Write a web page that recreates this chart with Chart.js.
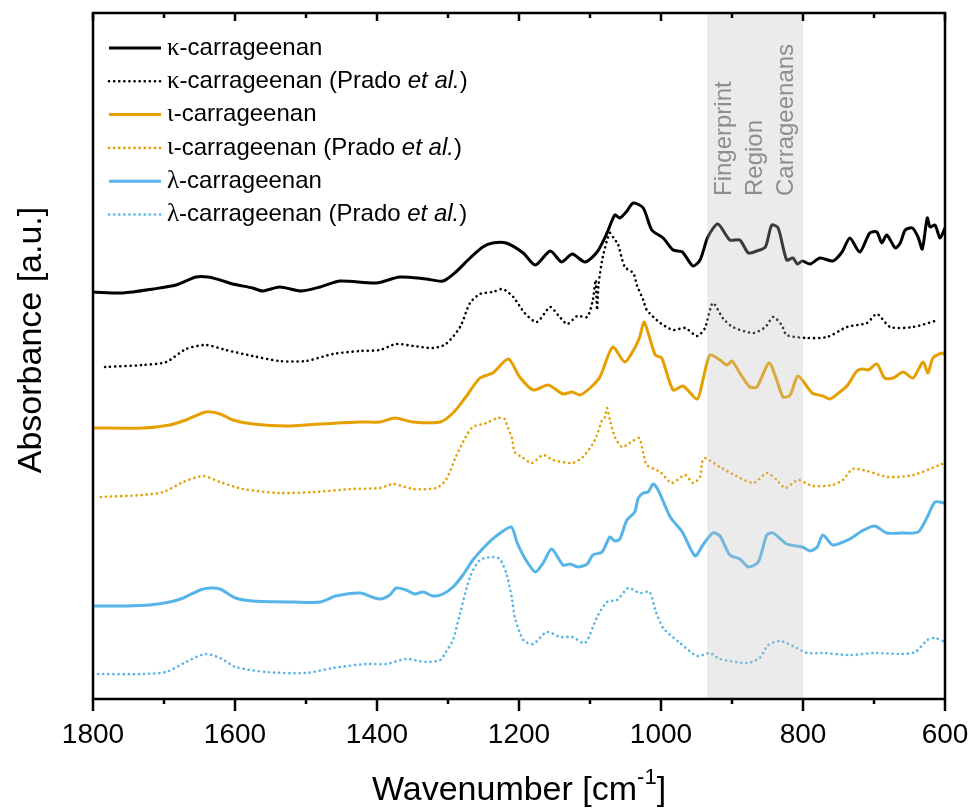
<!DOCTYPE html>
<html>
<head>
<meta charset="utf-8">
<title>FTIR carrageenan spectra</title>
<script src="https://cdn.jsdelivr.net/npm/chart.js@4.4.0/dist/chart.umd.min.js"></script>
<style>
  html, body { margin: 0; padding: 0; background: #fff; }
  #wrap { width: 974px; height: 811px; }
</style>
</head>
<body>
<div id="wrap"><canvas id="ftirChart" width="974" height="811"></canvas></div>
<script>
// spectra (wavenumber in cm-1, absorbance offset per curve, a.u.)
var kappaWn = [1800,1758,1715,1683,1655,1638,1621,1603,1575,1561,1537,1507,1480,1452,1401,1368,1331,1307,1289,1269,1251,1237,1218,1194,1177,1156,1140,1125,1107,1090,1076,1065,1058,1049,1039,1025,1013,997,983,970,955,945,934,920,903,889,877,865,853,844,835,823,814,808,801,790,776,758,745,734,720,706,696,689,682,670,663,656,646,638,632,625,621,614,607,600];
var kappaAbs = [4.07,4.06,4.10,4.14,4.22,4.22,4.19,4.15,4.11,4.08,4.12,4.08,4.12,4.18,4.16,4.22,4.20,4.18,4.27,4.41,4.52,4.56,4.56,4.46,4.34,4.48,4.37,4.45,4.37,4.47,4.66,4.84,4.81,4.87,4.96,4.91,4.69,4.61,4.49,4.47,4.33,4.39,4.62,4.75,4.59,4.59,4.46,4.48,4.52,4.74,4.71,4.39,4.41,4.35,4.38,4.35,4.41,4.38,4.47,4.61,4.47,4.66,4.67,4.56,4.64,4.51,4.56,4.69,4.71,4.62,4.50,4.81,4.72,4.74,4.61,4.71];

var kappaRefWn = [1783,1730,1697,1669,1641,1613,1575,1537,1500,1462,1424,1396,1373,1349,1321,1303,1283,1269,1255,1237,1223,1208,1192,1175,1156,1145,1132,1118,1104,1096,1092,1090,1088,1082,1072,1065,1061,1051,1039,1034,1025,1020,1001,983,966,949,938,927,913,899,870,853,842,830,823,794,766,738,710,696,677,645,614];
var kappaRefAbs = [3.32,3.34,3.37,3.50,3.54,3.49,3.43,3.38,3.38,3.45,3.48,3.49,3.55,3.53,3.51,3.55,3.72,3.96,4.05,4.07,4.10,4.02,3.86,3.77,3.92,3.84,3.75,3.83,3.82,3.99,4.19,3.89,4.14,4.42,4.66,4.59,4.56,4.32,4.26,4.14,3.99,3.89,3.76,3.69,3.71,3.63,3.71,3.96,3.81,3.72,3.66,3.72,3.82,3.74,3.64,3.61,3.62,3.72,3.76,3.85,3.72,3.72,3.78];

var iotaWn = [1800,1730,1692,1669,1641,1621,1603,1575,1528,1480,1424,1396,1375,1349,1311,1293,1275,1255,1237,1215,1199,1180,1159,1138,1125,1114,1100,1086,1068,1051,1037,1030,1024,1018,1008,999,983,969,949,941,931,917,907,900,889,875,865,848,837,828,818,807,787,772,762,748,737,724,715,708,696,685,673,659,645,631,624,617,604,600];
var iotaAbs = [2.71,2.71,2.74,2.79,2.87,2.85,2.79,2.75,2.73,2.75,2.77,2.77,2.81,2.77,2.77,2.86,3.02,3.21,3.26,3.40,3.22,3.09,3.14,3.05,3.07,3.04,3.11,3.22,3.52,3.37,3.51,3.62,3.77,3.66,3.44,3.41,3.09,3.13,3.00,3.19,3.44,3.39,3.34,3.38,3.26,3.12,3.12,3.36,3.19,3.02,3.04,3.23,3.06,3.03,3.00,3.07,3.14,3.28,3.30,3.29,3.35,3.21,3.21,3.27,3.21,3.37,3.26,3.41,3.46,3.44];

var iotaRefWn = [1789,1730,1701,1673,1645,1621,1589,1537,1490,1434,1396,1377,1349,1317,1303,1289,1275,1265,1246,1230,1220,1217,1210,1206,1194,1182,1166,1152,1125,1110,1093,1083,1079,1076,1072,1065,1055,1044,1031,1025,1020,1001,985,966,955,945,942,938,917,899,870,851,837,825,807,786,758,744,730,710,680,645,604];
var iotaRefAbs = [2.02,2.04,2.07,2.17,2.23,2.17,2.10,2.06,2.07,2.10,2.11,2.15,2.10,2.11,2.19,2.42,2.62,2.72,2.76,2.81,2.80,2.74,2.61,2.47,2.41,2.36,2.44,2.39,2.36,2.42,2.59,2.79,2.82,2.91,2.79,2.62,2.52,2.56,2.61,2.46,2.34,2.27,2.16,2.24,2.16,2.22,2.37,2.41,2.32,2.25,2.16,2.26,2.19,2.11,2.19,2.13,2.14,2.19,2.30,2.28,2.22,2.24,2.35];

var lambdaWn = [1800,1753,1720,1692,1673,1649,1635,1621,1599,1575,1518,1480,1458,1424,1403,1394,1382,1373,1359,1347,1335,1321,1307,1293,1279,1265,1246,1232,1211,1203,1192,1177,1166,1154,1138,1128,1117,1104,1096,1083,1072,1065,1058,1048,1037,1032,1025,1018,1011,1004,987,970,952,941,927,917,903,889,877,863,851,842,823,801,790,780,772,758,734,717,699,682,663,638,625,614,600];
var lambdaAbs = [0.93,0.93,0.94,0.97,1.01,1.09,1.11,1.10,1.01,0.98,0.97,0.97,1.03,1.06,1.01,1.00,1.04,1.11,1.09,1.05,1.07,1.03,1.05,1.12,1.24,1.39,1.54,1.63,1.72,1.57,1.41,1.27,1.36,1.50,1.34,1.35,1.32,1.35,1.44,1.47,1.62,1.58,1.60,1.79,1.87,2.01,2.06,2.07,2.15,2.09,1.82,1.67,1.43,1.54,1.66,1.63,1.44,1.40,1.32,1.37,1.64,1.66,1.55,1.52,1.48,1.52,1.64,1.54,1.60,1.68,1.73,1.66,1.66,1.67,1.82,1.97,1.96];

var lambdaRefWn = [1800,1730,1697,1669,1642,1621,1599,1556,1500,1462,1415,1387,1359,1331,1311,1303,1293,1283,1269,1255,1237,1227,1218,1210,1206,1194,1180,1161,1142,1125,1107,1090,1076,1062,1046,1030,1016,1008,997,973,949,931,917,879,861,849,832,814,794,772,734,699,663,642,625,614,600];
var lambdaRefAbs = [0.25,0.25,0.27,0.37,0.45,0.41,0.32,0.27,0.26,0.31,0.35,0.35,0.40,0.37,0.39,0.47,0.59,0.86,1.22,1.39,1.42,1.40,1.26,1.01,0.82,0.59,0.55,0.67,0.62,0.62,0.56,0.82,0.97,0.99,1.11,1.06,1.07,0.89,0.71,0.56,0.43,0.46,0.40,0.36,0.41,0.54,0.58,0.53,0.46,0.46,0.44,0.46,0.45,0.47,0.59,0.61,0.57];

var seriesLabels = ['κ-carrageenan', 'κ-carrageenan (Prado et al.)', 'ι-carrageenan', 'ι-carrageenan (Prado et al.)', 'λ-carrageenan', 'λ-carrageenan (Prado et al.)'];
var majorTicks = [1800, 1600, 1400, 1200, 1000, 800, 600];
var minorTicks = [1700, 1500, 1300, 1100, 900, 700];
var bandFrom = 935, bandTo = 800;
var bandText = ['Fingerprint', 'Region', 'Carrageenans'];

var FONT = '"Liberation Sans", Arial, sans-serif';
var BLACK = '#000000', ORANGE = '#E69F00', BLUE = '#56B4E9';
var DOTS = [0.1, 5];

function toPoints(wn, abs) {
    return wn.map(function(w, i) { return { x: w, y: abs[i] }; });
}

function spectrum(label, wn, abs, color, dotted) {
    return {
        label: label,
        data: toPoints(wn, abs),
        borderColor: color,
        borderWidth: dotted ? 2.6 : 3,
        borderDash: dotted ? DOTS : [],
        borderCapStyle: dotted ? 'round' : 'butt',
        pointRadius: 0,
        tension: 0.25,
        fill: false
    };
}

// grey band, frame, ticks and axis titles
var decorations = {
    id: 'decorations',
    afterDatasetsDraw: function(chart) {
        var ctx = chart.ctx, a = chart.chartArea, xs = chart.scales.x;
        var b0 = xs.getPixelForValue(bandFrom), b1 = xs.getPixelForValue(bandTo);
        ctx.save();
        ctx.fillStyle = 'rgba(190,190,190,0.31)';
        ctx.fillRect(b0, a.top, b1 - b0, a.bottom - a.top);

        ctx.fillStyle = '#8e8e8e';
        ctx.font = '24px ' + FONT;
        ctx.textAlign = 'left';
        ctx.textBaseline = 'middle';
        var mid = (b0 + b1) / 2;
        bandText.forEach(function(t, i) {
            ctx.save();
            ctx.translate(mid + (i - 1) * 31, a.top + 183);
            ctx.rotate(-Math.PI / 2);
            ctx.fillText(t, 0, 0);
            ctx.restore();
        });

        ctx.strokeStyle = '#000';
        ctx.lineWidth = 2.5;
        ctx.strokeRect(a.left, a.top, a.right - a.left, a.bottom - a.top);
        ctx.beginPath();
        majorTicks.forEach(function(v) {
            var px = xs.getPixelForValue(v);
            ctx.moveTo(px, a.bottom); ctx.lineTo(px, a.bottom + 12);
            ctx.moveTo(px, a.top); ctx.lineTo(px, a.top + 8);
        });
        minorTicks.forEach(function(v) {
            var px = xs.getPixelForValue(v);
            ctx.moveTo(px, a.bottom); ctx.lineTo(px, a.bottom + 5);
            ctx.moveTo(px, a.top); ctx.lineTo(px, a.top + 5);
        });
        ctx.stroke();

        // axis titles
        ctx.fillStyle = '#000';
        ctx.font = '34px ' + FONT;
        ctx.textAlign = 'center';
        ctx.textBaseline = 'middle';
        ctx.save();
        ctx.translate(32, 340);
        ctx.rotate(-Math.PI / 2);
        ctx.fillText('Absorbance [a.u.]', 0, 0);
        ctx.restore();

        var main = 'Wavenumber [cm', sup = '-1', end = ']';
        ctx.font = '34px ' + FONT;
        var w1 = ctx.measureText(main).width, w3 = ctx.measureText(end).width;
        ctx.font = '22px ' + FONT;
        var w2 = ctx.measureText(sup).width;
        var xStart = (a.left + a.right) / 2 - (w1 + w2 + w3) / 2;
        ctx.textAlign = 'left';
        ctx.font = '34px ' + FONT;
        ctx.fillText(main, xStart, 791);
        ctx.font = '22px ' + FONT;
        ctx.fillText(sup, xStart + w1, 778);
        ctx.font = '34px ' + FONT;
        ctx.fillText(end, xStart + w1 + w2, 791);
        ctx.restore();
    },
    afterDraw: function(chart) {
        // legend in the upper left of the plot
        var ctx = chart.ctx;
        ctx.save();
        ctx.textBaseline = 'middle';
        ctx.textAlign = 'left';
        chart.data.datasets.forEach(function(ds, i) {
            var y = 48 + i * 33.3;
            ctx.strokeStyle = ds.borderColor;
            ctx.lineWidth = ds.borderWidth;
            ctx.lineCap = ds.borderCapStyle;
            ctx.setLineDash(ds.borderDash);
            ctx.beginPath();
            ctx.moveTo(109, y);
            ctx.lineTo(161, y);
            ctx.stroke();
            ctx.setLineDash([]);

            ctx.fillStyle = '#000';
            var label = ds.label, x = 167;
            var greek = label.charAt(0);
            ctx.font = '25px "Liberation Serif", serif';
            ctx.fillText(greek, x, y);
            x += ctx.measureText(greek).width;
            var rest = label.slice(1);
            var k = rest.indexOf('et al.');
            var parts = k < 0 ? [[rest, '']] : [[rest.slice(0, k), ''], ['et al.', 'italic '], [rest.slice(k + 6), '']];
            parts.forEach(function(p) {
                ctx.font = p[1] + '24px ' + FONT;
                ctx.fillText(p[0], x, y);
                x += ctx.measureText(p[0]).width;
            });
        });
        ctx.restore();
    }
};

var ctx = document.getElementById('ftirChart').getContext('2d');
new Chart(ctx, {
    type: 'line',
    data: {
        datasets: [
            spectrum(seriesLabels[0], kappaWn, kappaAbs, BLACK, false),
            spectrum(seriesLabels[1], kappaRefWn, kappaRefAbs, BLACK, true),
            spectrum(seriesLabels[2], iotaWn, iotaAbs, ORANGE, false),
            spectrum(seriesLabels[3], iotaRefWn, iotaRefAbs, ORANGE, true),
            spectrum(seriesLabels[4], lambdaWn, lambdaAbs, BLUE, false),
            spectrum(seriesLabels[5], lambdaRefWn, lambdaRefAbs, BLUE, true)
        ]
    },
    options: {
        responsive: false,
        animation: false,
        devicePixelRatio: 1,
        layout: { padding: { top: 13, right: 29, left: 93, bottom: 0 } },
        plugins: {
            legend: { display: false },
            tooltip: { enabled: false }
        },
        scales: {
            x: {
                type: 'linear',
                reverse: true,
                min: 600,
                max: 1800,
                afterBuildTicks: function(scale) {
                    scale.ticks = majorTicks.map(function(v) { return { value: v }; });
                },
                afterFit: function(scale) {
                    scale.height = 112;
                    scale.paddingLeft = 0;
                    scale.paddingRight = 0;
                },
                ticks: {
                    color: '#000',
                    font: { size: 28, family: FONT },
                    padding: 19,
                    maxRotation: 0,
                    callback: function(v) { return String(v); }
                },
                grid: { display: false, drawTicks: false },
                border: { display: false }
            },
            y: {
                display: false,
                min: 0,
                max: 6.86
            }
        }
    },
    plugins: [decorations]
});
</script>
</body>
</html>
